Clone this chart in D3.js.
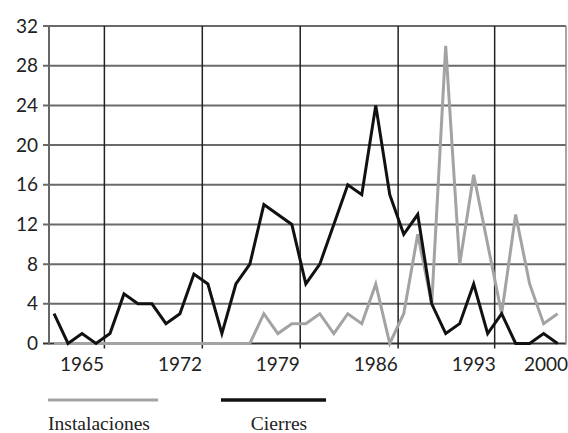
<!DOCTYPE html>
<html lang="es">
<head>
	<title>Instalaciones y cierres</title>
	<script src="https://d3js.org/d3.v7.min.js" charset="utf-8"></script>
	<style>
		body { margin: 0; background: white; }
	</style>
</head>
<body>
	<div id="main"></div>
	<script>

		var years = d3.range(1963, 2000)
		var instalaciones = [0,0,0,0,0,0,0,0,0,0,0,0,0,0,0,3,1,2,2,3,1,3,2,6,0,3,11,4,30,8,17,10,3,13,6,2,3]
		var cierres = [3,0,1,0,1,5,4,4,2,3,7,6,1,6,8,14,13,12,6,8,12,16,15,24,15,11,13,4,1,2,6,1,3,0,0,1,0]
		var yTicks = [0,4,8,12,16,20,24,28,32]
		var xLabels = [1965,1972,1979,1986,1993,2000]
		var gridYears = [1966.6,1973.6,1980.6,1987.6,1994.5]
		var legendNames = ["Instalaciones","Cierres"]
		var colors = ["#a3a3a3","#111111"]

		var width = 568
		var height = 433

		var svg = d3.select("#main").append("svg")
			.attr("width", width)
			.attr("height", height)

		var x = d3.scaleLinear()
			.domain([1962.64, 1999.6])
			.range([49, 566])

		var y = d3.scaleLinear()
			.domain([0, 32])
			.range([343.5, 26])

		// horizontal grid
		svg.append("g")
			.selectAll("line")
			.data(yTicks)
			.enter()
			.append("line")
			.attr("x1", 43)
			.attr("x2", x.range()[1])
			.attr("y1", function(d){ return y(d) })
			.attr("y2", function(d){ return y(d) })
			.style("stroke", function(d){ return d == 0 ? "#333" : "#6a6a6a" })
			.style("stroke-width", 2)

		// frame sides
		svg.append("line")
			.attr("x1", x.range()[0]).attr("x2", x.range()[0])
			.attr("y1", y(32)).attr("y2", y(0) + 1)
			.style("stroke", "#666").style("stroke-width", 2)
		svg.append("line")
			.attr("x1", x.range()[1]).attr("x2", x.range()[1])
			.attr("y1", y(32)).attr("y2", y(0) + 1)
			.style("stroke", "#888").style("stroke-width", 1.5)

		// vertical grid
		svg.append("g")
			.selectAll("line")
			.data(gridYears)
			.enter()
			.append("line")
			.attr("x1", function(d){ return x(d) })
			.attr("x2", function(d){ return x(d) })
			.attr("y1", y(32))
			.attr("y2", y(0) + 5)
			.style("stroke", "#222")
			.style("stroke-width", 1.5)

		// y labels
		svg.append("g")
			.selectAll("text")
			.data(yTicks)
			.enter()
			.append("text")
			.attr("x", 38)
			.attr("y", function(d){ return y(d) })
			.attr("dy", "0.35em")
			.attr("text-anchor", "end")
			.style("font-family", "Lato, sans-serif")
			.style("font-size", "19px")
			.style("fill", "#222")
			.text(function(d){ return d })

		// x labels
		svg.append("g")
			.selectAll("text")
			.data(xLabels)
			.enter()
			.append("text")
			.attr("x", function(d){ return Math.min(x(d), x.range()[1] + 2) })
			.attr("y", 371)
			.attr("text-anchor", function(d){ return x(d) > x.range()[1] ? "end" : "middle" })
			.style("font-family", "Lato, sans-serif")
			.style("font-size", "19px")
			.style("fill", "#222")
			.text(function(d){ return d })

		var line = d3.line()
			.x(function(d, i){ return x(years[i]) })
			.y(function(d){ return y(d) })

		svg.append("path")
			.datum(instalaciones)
			.attr("d", line)
			.style("fill", "none")
			.style("stroke", colors[0])
			.style("stroke-width", 3)
			.style("stroke-linejoin", "miter")

		svg.append("path")
			.datum(cierres)
			.attr("d", line)
			.style("fill", "none")
			.style("stroke", colors[1])
			.style("stroke-width", 3)
			.style("stroke-linejoin", "miter")

		// legend
		var legend = svg.append("g")
			.selectAll("g")
			.data(legendNames)
			.enter()
			.append("g")
			.attr("transform", function(d, i){ return "translate(" + (48 + i * 173) + ",0)" })

		legend.append("line")
			.attr("x1", 0)
			.attr("x2", function(d, i){ return i ? 105 : 110 })
			.attr("y1", 400)
			.attr("y2", 400)
			.style("stroke", function(d, i){ return colors[i] })
			.style("stroke-width", function(d, i){ return i ? 3.5 : 3 })

		legend.append("text")
			.attr("x", function(d, i){ return i ? 58 : 51 })
			.attr("y", 430)
			.attr("text-anchor", "middle")
			.style("font-family", "'Liberation Serif', serif")
			.style("font-size", "19.5px")
			.style("fill", "#222")
			.text(function(d){ return d })

	</script>
</body>
</html>
